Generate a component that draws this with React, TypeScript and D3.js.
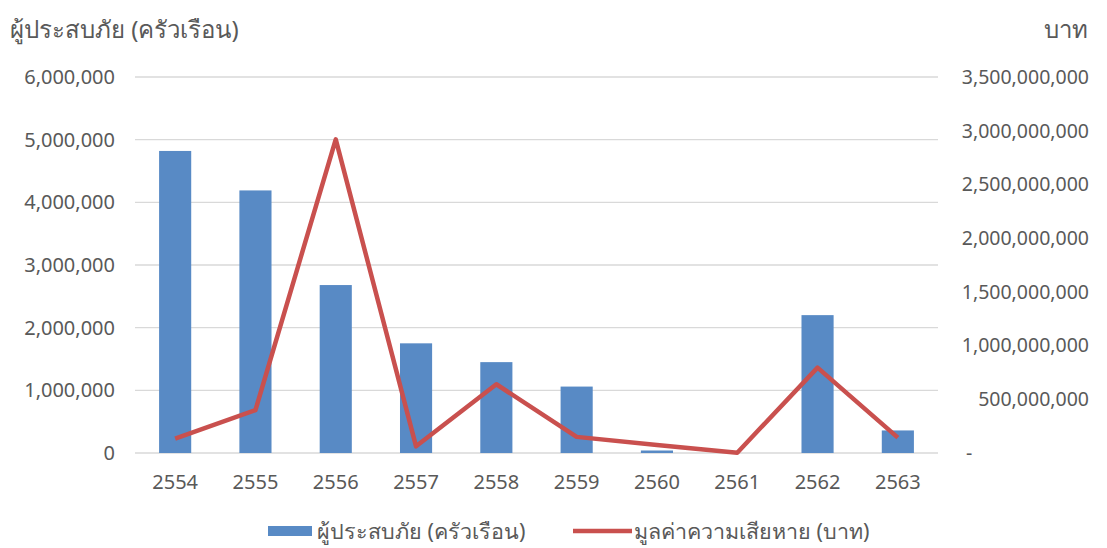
import React from "react";
import * as d3 from "d3";

const years = ["2554", "2555", "2556", "2557", "2558", "2559", "2560", "2561", "2562", "2563"];
const households = [4820000, 4190000, 2680000, 1750000, 1450000, 1060000, 40000, 0, 2200000, 360000];
const damage = [134000000, 400000000, 2920000000, 62000000, 640000000, 150000000, 75000000, 3000000, 795000000, 143000000];
const leftTicks = [0, 1000000, 2000000, 3000000, 4000000, 5000000, 6000000];
const rightTicks = [0, 500000000, 1000000000, 1500000000, 2000000000, 2500000000, 3000000000, 3500000000];

const W = 1107, H = 548;
const plot = { left: 135, right: 938, top: 77, bottom: 453 };
const FONT = "'Noto Sans', 'DejaVu Sans', sans-serif";
const TXT = "#595959";

export default function App() {
  const x = d3.scaleBand<string>().domain(years).range([plot.left, plot.right]).paddingInner(0.6).paddingOuter(0.3);
  const yL = d3.scaleLinear().domain([0, 6000000]).range([plot.bottom, plot.top]);
  const yR = d3.scaleLinear().domain([0, 3500000000]).range([plot.bottom, plot.top]);
  const fmt = d3.format(",");
  const line = d3.line<number>()
    .x((_, i) => (x(years[i]) as number) + x.bandwidth() / 2)
    .y((d) => yR(d));

  return (
    <svg width={W} height={H} style={{ position: "absolute", left: 0, top: 0 }} fontFamily={FONT}>
      <rect width={W} height={H} fill="#fff" />
      {leftTicks.map((t) => (
        <line key={t} x1={plot.left} x2={plot.right} y1={yL(t)} y2={yL(t)} stroke="#d9d9d9" strokeWidth={1.3} />
      ))}
      {leftTicks.map((t) => (
        <text key={t} x={115} y={yL(t)} dy="0.35em" textAnchor="end" fontSize={20} fill={TXT}>{fmt(t)}</text>
      ))}
      {rightTicks.map((t) => (
        t === 0 ? (
          <text key={t} x={966} y={yR(t)} dy="0.35em" textAnchor="start" fontSize={19.5} fill={TXT}>-</text>
        ) : (
          <text key={t} x={1089} y={yR(t)} dy="0.35em" textAnchor="end" fontSize={19.5} fill={TXT}>{fmt(t)}</text>
        )
      ))}
      {years.map((yv, i) => (
        <rect key={yv} x={x(yv)} y={yL(households[i])} width={x.bandwidth()} height={plot.bottom - yL(households[i])} fill="#588AC5" />
      ))}
      {years.map((yv) => (
        <text key={yv} x={(x(yv) as number) + x.bandwidth() / 2} y={482} dy="0.35em" textAnchor="middle" fontSize={20} fill={TXT}>{yv}</text>
      ))}
      <path d={line(damage) || ""} fill="none" stroke="#C9504E" strokeWidth={4.5} strokeLinejoin="round" />
      <text x={10} y={30} dy="0.35em" fontSize={24} fill={TXT}>ผู้ประสบภัย (ครัวเรือน)</text>
      <text x={1088} y={30} dy="0.35em" fontSize={24} fill={TXT} textAnchor="end">บาท</text>
      <rect x={268} y={526} width={44} height={10} fill="#588AC5" />
      <text x={317} y={531} dy="0.35em" fontSize={21.5} fill={TXT}>ผู้ประสบภัย (ครัวเรือน)</text>
      <line x1={573} x2={632} y1={531} y2={531} stroke="#C9504E" strokeWidth={4.5} />
      <text x={634} y={531} dy="0.35em" fontSize={21.5} fill={TXT}>มูลค่าความเสียหาย (บาท)</text>
    </svg>
  );
}
